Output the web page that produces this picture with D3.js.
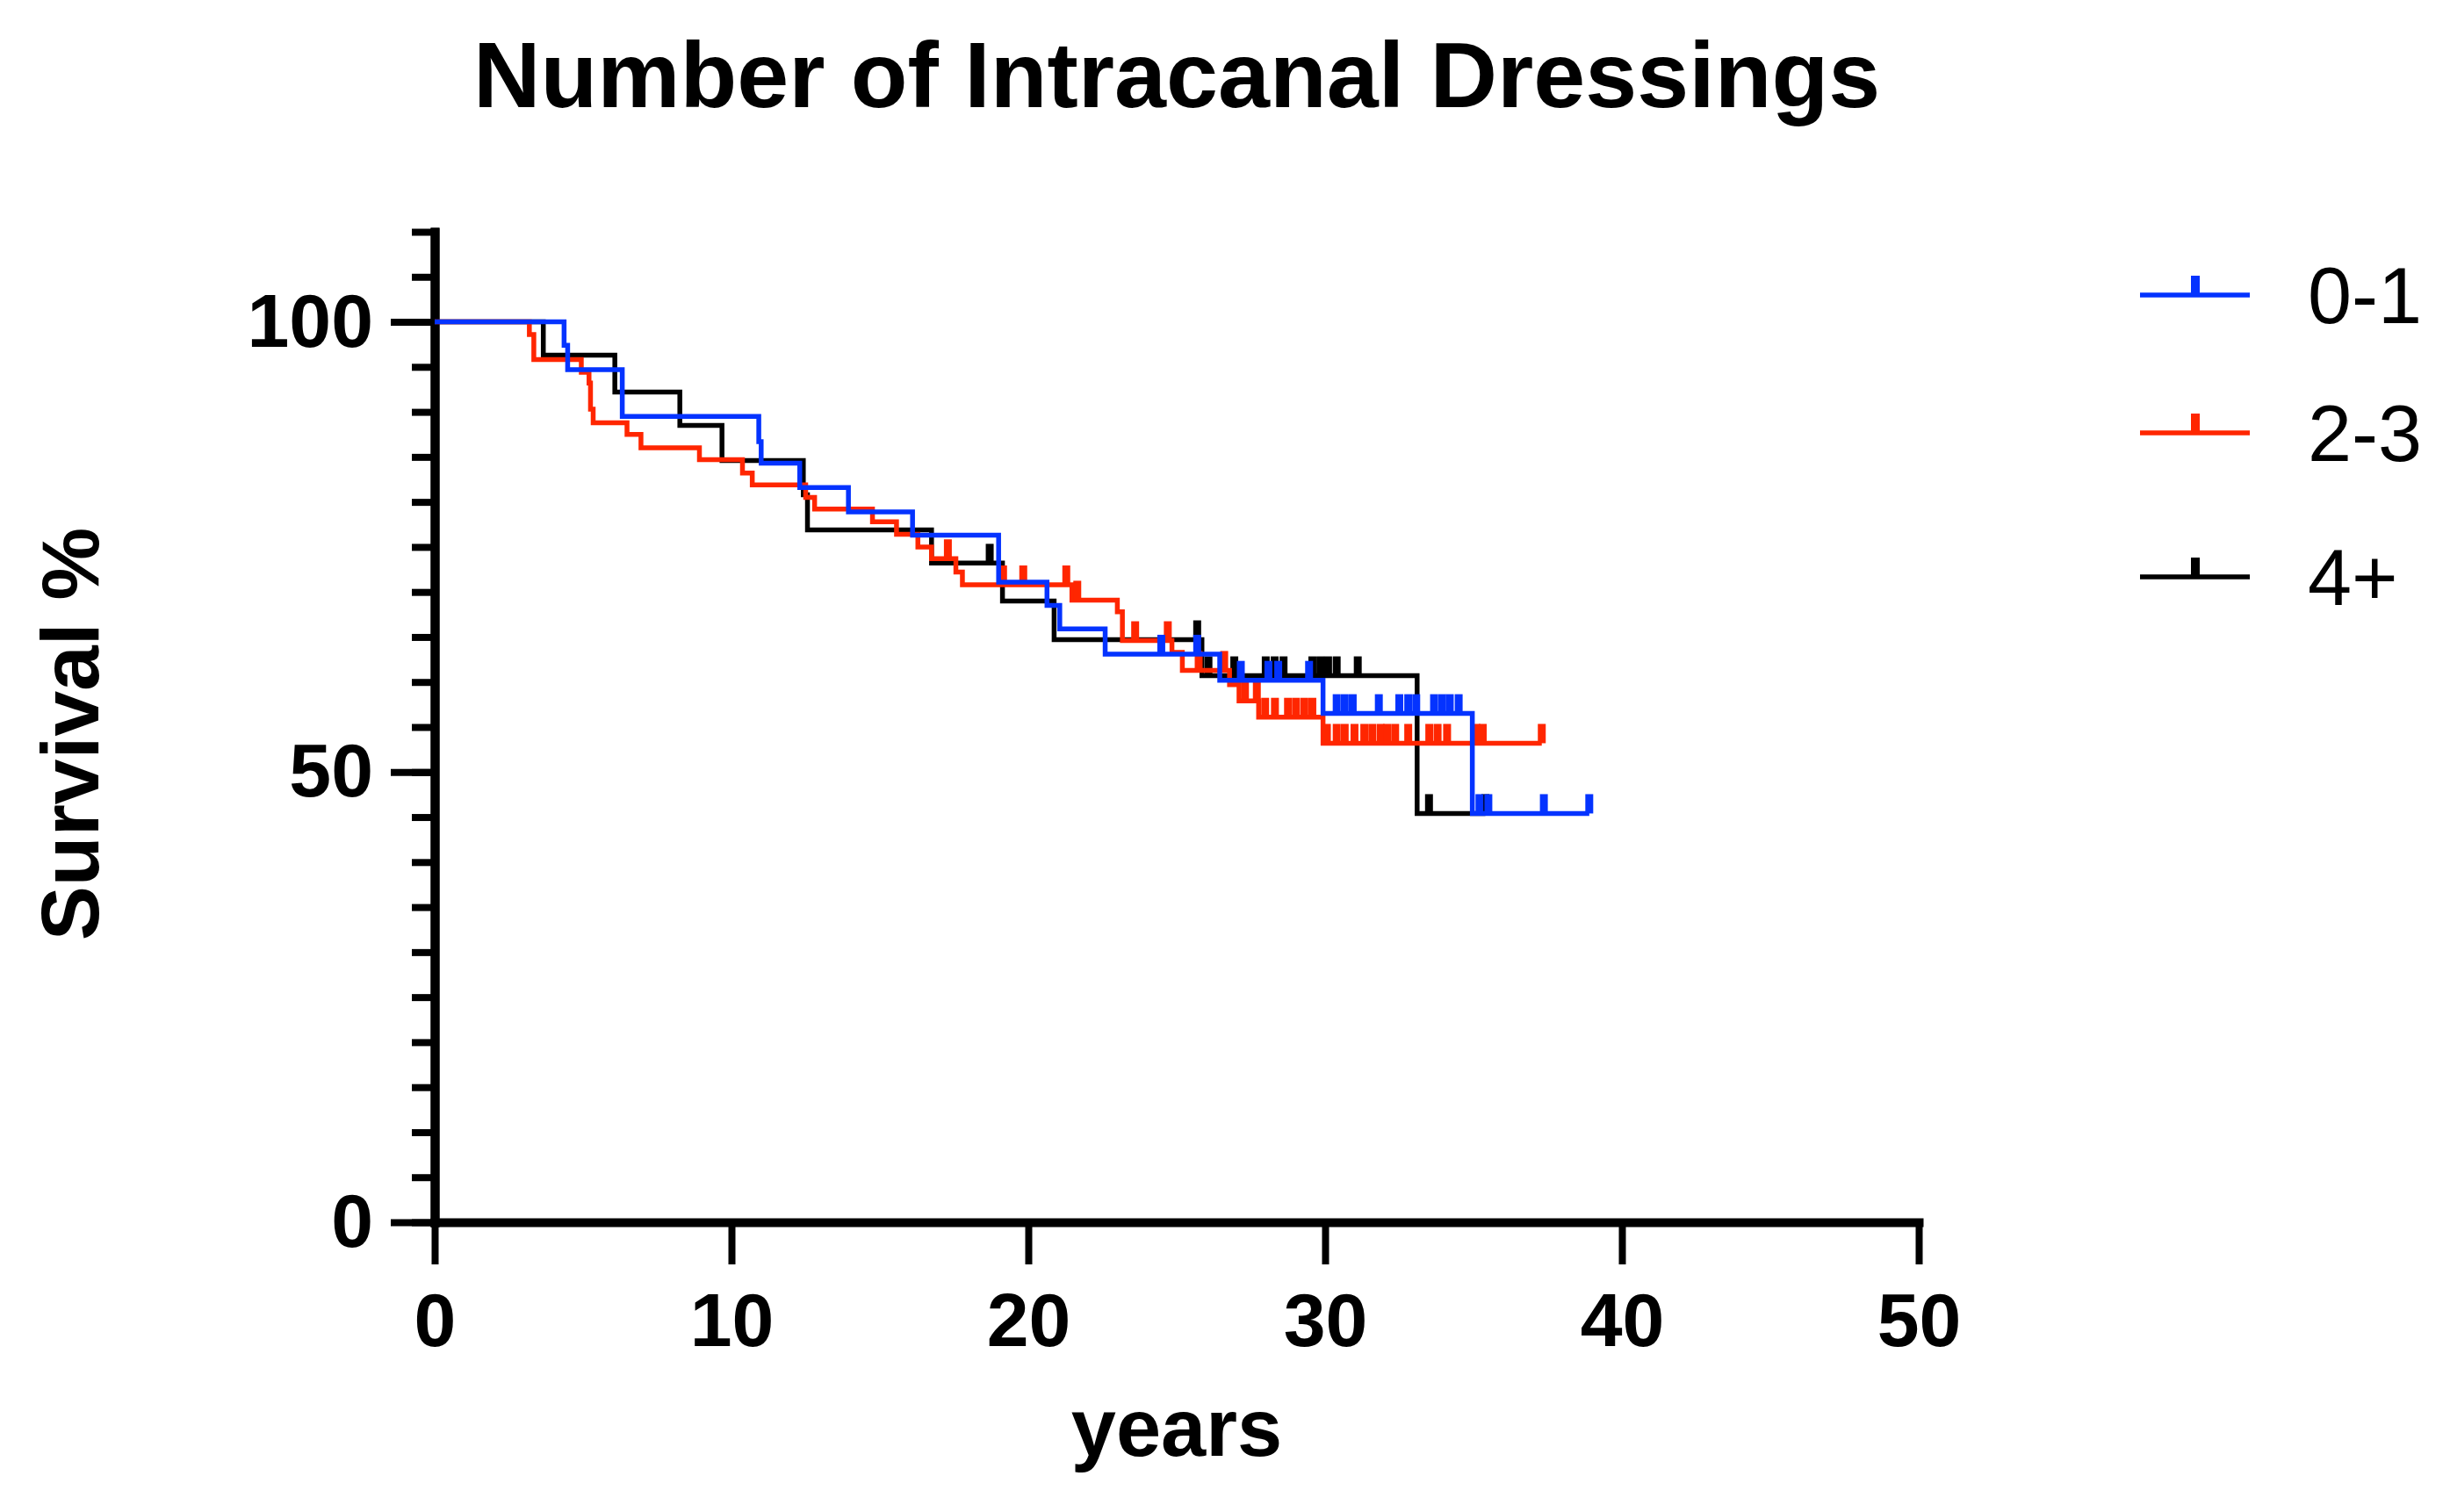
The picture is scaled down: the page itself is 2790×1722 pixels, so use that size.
<!DOCTYPE html>
<html>
<head>
<meta charset="utf-8">
<script src="https://cdn.jsdelivr.net/npm/d3@7"></script>
<style>
    body { margin: 0; background: #fff; }
    text { font-family: 'Liberation Sans', Arial, Helvetica, sans-serif; }
</style>
</head>
<body>
<div class="km-container"></div>
<script>
// Data: Kaplan-Meier steps as [years, survival %]
const groups = ['0-1', '2-3', '4+'];
const colors = ['#0433ff', '#ff2600', '#000000'];

const steps01 = [
    [0, 100], [4.36, 97.4], [4.48, 94.7], [6.32, 89.5], [10.92, 86.7], [11.0, 84.3],
    [12.3, 81.6], [13.94, 78.9], [16.1, 76.3], [19.0, 71.1], [20.63, 68.5], [21.06, 65.9],
    [22.59, 63.1], [26.45, 60.2], [29.93, 56.5], [34.96, 45.4]
];
const steps23 = [
    [0, 100], [3.19, 98.6], [3.34, 95.8], [4.94, 94.4], [5.2, 93.2], [5.25, 90.3],
    [5.34, 88.8], [6.48, 87.5], [6.95, 86.0], [8.92, 84.7], [10.37, 83.2], [10.7, 81.9],
    [12.5, 80.5], [12.8, 79.2], [14.75, 77.8], [15.56, 76.4], [16.28, 75.0], [16.74, 73.7],
    [17.56, 72.2], [17.78, 70.8], [21.47, 69.1], [23.0, 67.8], [23.17, 64.6], [24.84, 63.3],
    [25.19, 61.3], [26.78, 59.7], [27.1, 57.9], [27.76, 56.1], [29.93, 53.2]
];
const steps4 = [
    [0, 100], [3.66, 96.3], [6.07, 92.2], [8.26, 88.5], [9.68, 84.6], [12.42, 80.8],
    [12.56, 76.9], [16.74, 73.2], [19.13, 69.0], [20.87, 64.7], [25.85, 60.7], [33.1, 45.4]
];

// censored observations (years)
const censor01 = [
    24.48, 25.69, 27.16, 28.09, 28.42, 29.46, 30.39, 30.66, 30.93, 31.81, 32.5, 32.8,
    33.07, 33.67, 33.94, 34.2, 34.5, 35.2, 35.5, 37.37, 38.9
];
const censor23 = [
    17.29, 19.15, 19.83, 21.28, 21.65, 23.6, 24.7, 25.74, 26.6, 27.3, 27.7, 27.98, 28.31,
    28.75, 29.02, 29.3, 29.57, 30.06, 30.39, 30.66, 30.99, 31.32, 31.59, 31.87, 32.09,
    32.36, 32.8, 33.51, 33.79, 34.11, 35.1, 35.31, 37.3
];
const censor4 = [
    18.7, 25.69, 26.07, 26.94, 28.0, 28.3, 28.6, 29.57, 29.84, 30.1, 30.39, 31.1, 33.5, 35.4
];
const lastTime = [38.9, 37.3, 35.4];

const xTicks = [0, 10, 20, 30, 40, 50];
const yMajorTicks = [0, 50, 100];
const yMinorTicks = d3.range(0, 111, 5);

// Build series
const allSteps = [steps01, steps23, steps4];
const allCensor = [censor01, censor23, censor4];

const survivalAt = (steps, t) => steps.filter(d => d[0] <= t).pop()[1];

const series = groups.map((g, i) => {
    const steps = allSteps[i];
    const last = steps[steps.length - 1][1];
    return {
        name: g,
        color: colors[i],
        points: steps.concat([[lastTime[i], last]]),
        censor: allCensor[i].map(t => ({ t: t, s: survivalAt(steps, t) }))
    };
});

// Layout
const svgWidth = 2790;
const svgHeight = 1722;
const plot = { left: 495, right: 2185, top: 264, bottom: 1392 };

const xScale = d3.scaleLinear().domain([0, 50]).range([plot.left, plot.right]);
const yScale = d3.scaleLinear().domain([0, 110]).range([plot.bottom, plot.top]);

const svg = d3.select('.km-container')
    .append('svg')
    .attr('width', svgWidth)
    .attr('height', svgHeight);

// Title
svg.append('text')
    .attr('x', (plot.left + plot.right) / 2)
    .attr('y', 122)
    .attr('text-anchor', 'middle')
    .style('font-size', '106px')
    .style('font-weight', 'bold')
    .text('Number of Intracanal Dressings');

// Axes
const yMinor = d3.axisLeft(yScale)
    .tickValues(yMinorTicks)
    .tickSize(26)
    .tickSizeOuter(0)
    .tickFormat('');

const yMajor = d3.axisLeft(yScale)
    .tickValues(yMajorTicks)
    .tickSize(50)
    .tickSizeOuter(0)
    .tickPadding(20);

const xAxis = d3.axisBottom(xScale)
    .tickValues(xTicks)
    .tickSize(48)
    .tickSizeOuter(0)
    .tickPadding(32);

const yMinorDraw = svg.append('g')
    .attr('class', 'y axis')
    .attr('transform', 'translate(' + plot.left + ',0)');
yMinor(yMinorDraw);

const yMajorDraw = svg.append('g')
    .attr('class', 'y axis')
    .attr('transform', 'translate(' + plot.left + ',0)');
yMajor(yMajorDraw);

const xAxisDraw = svg.append('g')
    .attr('class', 'x axis')
    .attr('transform', 'translate(0,' + plot.bottom + ')');
xAxis(xAxisDraw);

svg.selectAll('.axis .domain')
    .attr('stroke', '#000')
    .attr('stroke-width', 10)
    .attr('stroke-linecap', 'square');
svg.selectAll('.axis .tick line')
    .attr('stroke', '#000')
    .attr('stroke-width', 8);
svg.selectAll('.axis .tick text')
    .attr('fill', '#000')
    .style('font-size', '86px')
    .style('font-weight', 'bold');

// Axis titles
svg.append('text')
    .attr('transform', 'translate(112,836) rotate(-90)')
    .attr('text-anchor', 'middle')
    .style('font-size', '93px')
    .style('font-weight', 'bold')
    .text('Survival %');

svg.append('text')
    .attr('x', (plot.left + plot.right) / 2)
    .attr('y', 1658)
    .attr('text-anchor', 'middle')
    .style('font-size', '92px')
    .style('font-weight', 'bold')
    .text('years');

// Curves (black first, blue on top)
const line = d3.line()
    .x(d => xScale(d[0]))
    .y(d => yScale(d[1]))
    .curve(d3.curveStepAfter);

const drawOrder = series.slice().reverse();

const curves = svg.selectAll('.curve')
    .data(drawOrder)
    .enter()
    .append('g')
    .attr('class', 'curve');

curves.append('path')
    .attr('d', d => line(d.points))
    .attr('fill', 'none')
    .attr('stroke', d => d.color)
    .attr('stroke-width', 5.5);

curves.each(function(d) {
    d3.select(this)
        .selectAll('.censor')
        .data(d.censor)
        .enter()
        .append('line')
        .attr('class', 'censor')
        .attr('x1', c => xScale(c.t))
        .attr('x2', c => xScale(c.t))
        .attr('y1', c => yScale(c.s))
        .attr('y2', c => yScale(c.s) - 22)
        .attr('stroke', d.color)
        .attr('stroke-width', 9);
});

// Legend
const legend = svg.selectAll('.legend')
    .data(series)
    .enter()
    .append('g')
    .attr('class', 'legend')
    .attr('transform', (d, i) => 'translate(2437,' + [336, 493, 657][i] + ')');

legend.append('line')
    .attr('x1', 0)
    .attr('x2', 125)
    .attr('stroke', d => d.color)
    .attr('stroke-width', 5.5);

legend.append('line')
    .attr('x1', 63)
    .attr('x2', 63)
    .attr('y1', 0)
    .attr('y2', -22)
    .attr('stroke', d => d.color)
    .attr('stroke-width', 10);

legend.append('text')
    .attr('x', 191)
    .attr('y', 32)
    .style('font-size', '90px')
    .text(d => d.name);
</script>
</body>
</html>
